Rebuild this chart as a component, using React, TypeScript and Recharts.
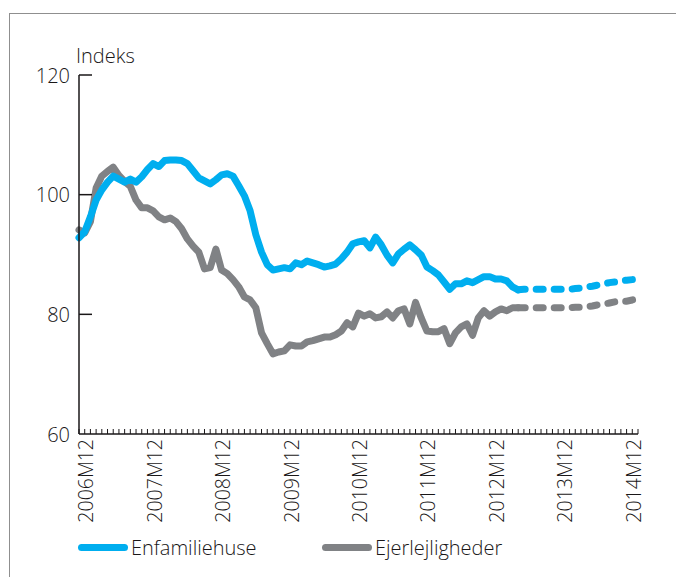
import React from 'react';
import { LineChart, Line, XAxis, YAxis } from 'recharts';

// month index 0 = 2006M11, one point per month up to index 98
const yearLabels = ['2006M12', '2007M12', '2008M12', '2009M12', '2010M12', '2011M12', '2012M12', '2013M12', '2014M12'];
const yearTickIndex = [1, 13, 25, 37, 49, 61, 73, 85, 97];
const yTicks = [60, 80, 100, 120];

const enfamilieActual = [
  92.8, 93.8, 96.3, 99.1, 100.8, 102.1, 103.1, 102.6, 102.1, 102.6,
  102.1, 103.0, 104.2, 105.2, 104.7, 105.7, 105.8, 105.8, 105.7, 105.2,
  104.0, 102.8, 102.3, 101.8, 102.5, 103.3, 103.5, 103.1, 101.5, 99.8,
  97.3, 93.3, 90.4, 88.3, 87.4, 87.6, 87.8, 87.6, 88.6, 88.3,
  88.9, 88.6, 88.3, 87.9, 88.1, 88.4, 89.3, 90.4, 91.8, 92.1,
  92.3, 91.1, 92.9, 91.6, 89.9, 88.6, 90.1, 90.9, 91.6, 90.8,
  89.9, 87.9, 87.3, 86.6, 85.4, 84.2, 85.1, 85.1, 85.6, 85.3,
  85.8, 86.3, 86.3, 85.9, 85.9, 85.6, 84.6, 84.1,
];
const enfamilieForecast = [
  84.1, 84.2, 84.2, 84.2, 84.2, 84.2, 84.2, 84.2, 84.2, 84.2,
  84.3, 84.4, 84.6, 84.7, 84.9, 85.1, 85.3, 85.4, 85.6, 85.7, 85.8, 85.9,
];

const ejerActual = [
  94.1, 93.6, 95.5, 101.1, 103.1, 103.9, 104.6, 103.2, 102.2, 101.4,
  99.1, 97.8, 97.8, 97.3, 96.3, 95.8, 96.1, 95.5, 94.3, 92.6,
  91.4, 90.4, 87.6, 87.8, 90.9, 87.4, 86.8, 85.8, 84.6, 82.9,
  82.4, 81.1, 76.9, 75.1, 73.4, 73.7, 73.9, 74.9, 74.7, 74.7,
  75.4, 75.6, 75.9, 76.2, 76.2, 76.6, 77.2, 78.6, 77.9, 80.2,
  79.7, 80.1, 79.4, 79.6, 80.4, 79.4, 80.6, 80.9, 78.4, 82.0,
  79.4, 77.2, 77.1, 77.1, 77.6, 75.1, 76.9, 77.9, 78.4, 76.5,
  79.4, 80.6, 79.7, 80.4, 80.9, 80.6, 81.1, 81.1,
];
const ejerForecast = [
  81.1, 81.1, 81.1, 81.1, 81.1, 81.1, 81.1, 81.1, 81.1, 81.1,
  81.2, 81.2, 81.3, 81.4, 81.6, 81.7, 81.9, 82.1, 82.2, 82.2, 82.4, 82.6,
];

const BLUE = '#00aeef';
const GRAY = '#808285';
const INK = '#1a1718';
const FONT = '"Open Sans", sans-serif';

const forecastStart = enfamilieActual.length - 1;
const monthCount = forecastStart + enfamilieForecast.length;
const monthTicks = Array.from({ length: monthCount }, (_, i) => i);

const rows = monthTicks.map((i) => ({
  i,
  enfActual: i <= forecastStart ? enfamilieActual[i] : null,
  enfForecast: i >= forecastStart ? enfamilieForecast[i - forecastStart] : null,
  ejerActual: i <= forecastStart ? ejerActual[i] : null,
  ejerForecast: i >= forecastStart ? ejerForecast[i - forecastStart] : null,
}));

const MonthTick = (props: any) => {
  const { x, y, payload } = props;
  const k = yearTickIndex.indexOf(payload.value);
  return (
    <g>
      <line x1={x} y1={y} x2={x} y2={y - 5} stroke={INK} strokeWidth={1} />
      {k >= 0 && (
        <text
          x={x + 1}
          y={y + 5}
          transform={`rotate(-90, ${x + 1}, ${y + 5})`}
          textAnchor="end"
          dominantBaseline="central"
          fontSize={19.5}
          fontWeight={300}
          fontFamily={FONT}
          fill={INK}
        >
          {yearLabels[k]}
        </text>
      )}
    </g>
  );
};

const ValueTick = (props: any) => {
  const { x, y, payload } = props;
  return (
    <g>
      {payload.value > 60 && <line x1={x} y1={y} x2={x + 13} y2={y} stroke={INK} strokeWidth={1.5} />}
      <text x={x - 9} y={y} textAnchor="end" dominantBaseline="central" fontSize={20} fontWeight={300} fontFamily={FONT} fill={INK}>
        {payload.value}
      </text>
    </g>
  );
};

const LegendItem = ({ color, label, left }: { color: string; label: string; left: number }) => (
  <div style={{ position: 'absolute', left, top: 534, display: 'flex', alignItems: 'center' }}>
    <div style={{ width: 50, height: 7, borderRadius: 4, background: color, marginRight: 3 }} />
    <span style={{ fontFamily: FONT, fontWeight: 300, fontSize: 20, color: INK }}>{label}</span>
  </div>
);

export default function App() {
  return (
    <div style={{ position: 'absolute', left: 0, top: 0, width: 676, height: 577, overflow: 'hidden', background: '#fff' }}>
      <div style={{ position: 'absolute', left: 9, top: 13, width: 700, height: 600, borderLeft: '1.5px solid #8f8f8f', borderTop: '1.5px solid #8f8f8f' }} />
      <LineChart width={676} height={577} data={rows} margin={{ top: 75, right: 38, left: 0, bottom: 63 }}>
        <XAxis
          dataKey="i"
          type="number"
          domain={[0, monthCount - 1]}
          ticks={monthTicks}
          interval={0}
          tick={<MonthTick />}
          tickLine={false}
          tickSize={0}
          tickMargin={0}
          height={80}
          axisLine={{ stroke: INK, strokeWidth: 1.5 }}
        />
        <YAxis
          type="number"
          domain={[60, 120]}
          ticks={yTicks}
          interval={0}
          tick={<ValueTick />}
          tickLine={false}
          tickSize={0}
          tickMargin={0}
          width={79}
          axisLine={{ stroke: INK, strokeWidth: 1.5 }}
          label={() => (
            <text x={76} y={55} dominantBaseline="central" fontSize={20} fontWeight={300} fontFamily={FONT} fill={INK}>
              Indeks
            </text>
          )}
        />
        <Line dataKey="ejerActual" type="linear" stroke={GRAY} strokeWidth={7} strokeLinejoin="round" strokeLinecap="round" dot={false} isAnimationActive={false} connectNulls={false} />
        <Line dataKey="enfActual" type="linear" stroke={BLUE} strokeWidth={7} strokeLinejoin="round" strokeLinecap="round" dot={false} isAnimationActive={false} connectNulls={false} />
        <Line dataKey="ejerForecast" type="linear" stroke={GRAY} strokeWidth={7} strokeDasharray="7 11" strokeLinecap="round" dot={false} isAnimationActive={false} />
        <Line dataKey="enfForecast" type="linear" stroke={BLUE} strokeWidth={7} strokeDasharray="7 11" strokeLinecap="round" dot={false} isAnimationActive={false} />
      </LineChart>
      <LegendItem color={BLUE} label="Enfamiliehuse" left={78} />
      <LegendItem color={GRAY} label="Ejerlejligheder" left={322} />
    </div>
  );
}
